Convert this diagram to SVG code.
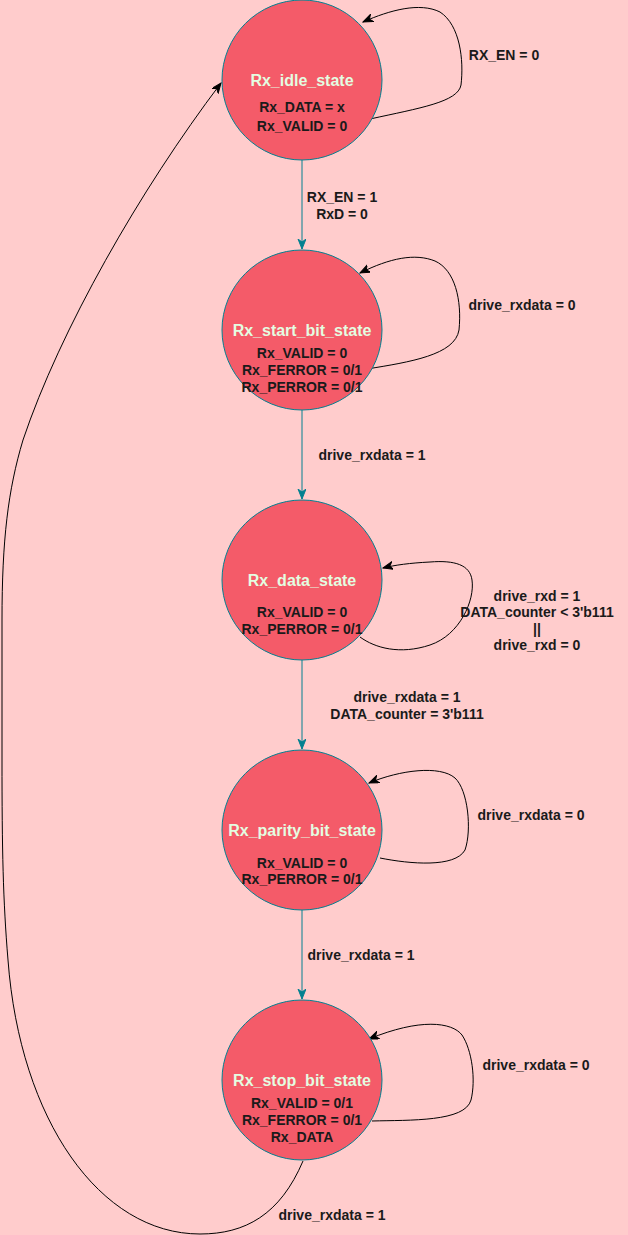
<svg xmlns="http://www.w3.org/2000/svg" width="628" height="1235" viewBox="0 0 628 1235">
<style>
.st{fill:#F45B69;stroke:#028090;stroke-width:1}
.tt{font-family:"Liberation Sans",Arial,sans-serif;font-size:16px;font-weight:bold;fill:#E4FDE1;text-anchor:middle}
.bt{font-family:"Liberation Sans",Arial,sans-serif;font-size:14px;font-weight:bold;fill:#1a1a1a;text-anchor:middle}
.lb{font-family:"Liberation Sans",Arial,sans-serif;font-size:14px;font-weight:bold;fill:#1a1a1a;text-anchor:middle}
.tl{fill:none;stroke:#028090;stroke-width:1;marker-end:url(#at)}
.bl{fill:none;stroke:#000;stroke-width:1;marker-end:url(#ab)}
</style>
<defs>
<marker id="at" markerUnits="userSpaceOnUse" markerWidth="12" markerHeight="10" refX="10" refY="4" orient="auto">
<path d="M0,0 L10,4 L0,8 L3,4 Z" fill="#028090" stroke="#028090" stroke-width="1"/>
</marker>
<marker id="ab" markerUnits="userSpaceOnUse" markerWidth="12" markerHeight="10" refX="10" refY="4" orient="auto">
<path d="M0,0 L10,4 L0,8 L3,4 Z" fill="#000" stroke="#000" stroke-width="1"/>
</marker>
</defs>
<rect x="0" y="0" width="628" height="1235" fill="#FFCCCC"/>
<g id="connectors">
<path class="tl" d="M302,160 L302,249"/>
<path class="tl" d="M302,410 L302,499"/>
<path class="tl" d="M302,660 L302,749"/>
<path class="tl" d="M302,910 L302,999"/>
<path class="bl" d="M370,119 C420,108 458,102 461,85 C464,60 460,25 440,12 C420,2 390,10 363,22"/>
<path class="bl" d="M367,369 C410,362 455,355 459,330 C462,300 455,270 435,261 C415,253 390,258 360,273"/>
<path class="bl" d="M360,637 C375,648 400,655 430,645 C460,635 475,600 472,580 C470,565 455,560 430,562 C410,563 395,565 383,568"/>
<path class="bl" d="M380,858 C410,864 455,868 465,850 C472,830 468,790 455,778 C440,765 400,770 369,783"/>
<path class="bl" d="M372,1121 C410,1120 465,1122 471,1100 C476,1080 472,1050 462,1035 C452,1022 420,1018 369,1039"/>
<path class="bl" d="M303,1161 C280,1215 245,1234 200,1234 C100,1234 20,1120 8,960 C3,900 2,850 2,760 L2,620 C2,540 8,490 23,440 C60,330 140,190 221,83"/>
<text class="lb" x="504" y="60">RX_EN = 0</text>
<text class="lb" x="342" y="202">RX_EN = 1</text>
<text class="lb" x="342" y="219">RxD = 0</text>
<text class="lb" x="522" y="310">drive_rxdata = 0</text>
<text class="lb" x="372" y="460">drive_rxdata = 1</text>
<text class="lb" x="537" y="601">drive_rxd = 1</text>
<text class="lb" x="537" y="617">DATA_counter &lt; 3'b111</text>
<text class="lb" x="537" y="634">||</text>
<text class="lb" x="537" y="650">drive_rxd = 0</text>
<text class="lb" x="407" y="702">drive_rxdata = 1</text>
<text class="lb" x="407" y="719">DATA_counter = 3'b111</text>
<text class="lb" x="531" y="820">drive_rxdata = 0</text>
<text class="lb" x="361" y="960">drive_rxdata = 1</text>
<text class="lb" x="536" y="1070">drive_rxdata = 0</text>
<text class="lb" x="332" y="1220">drive_rxdata = 1</text>
</g>
<g id="idle">
<circle class="st" cx="302" cy="80" r="80"/>
<text class="tt" x="302" y="86">Rx_idle_state</text>
<text class="bt" x="302" y="112">Rx_DATA = x</text>
<text class="bt" x="302" y="131">Rx_VALID = 0</text>
</g>
<g id="start">
<circle class="st" cx="302" cy="330" r="80"/>
<text class="tt" x="302" y="336">Rx_start_bit_state</text>
<text class="bt" x="302" y="358">Rx_VALID = 0</text>
<text class="bt" x="302" y="375">Rx_FERROR = 0/1</text>
<text class="bt" x="302" y="392">Rx_PERROR = 0/1</text>
</g>
<g id="data">
<circle class="st" cx="302" cy="580" r="80"/>
<text class="tt" x="302" y="586">Rx_data_state</text>
<text class="bt" x="302" y="617">Rx_VALID = 0</text>
<text class="bt" x="302" y="634">Rx_PERROR = 0/1</text>
</g>
<g id="parity">
<circle class="st" cx="302" cy="830" r="80"/>
<text class="tt" x="302" y="836">Rx_parity_bit_state</text>
<text class="bt" x="302" y="868">Rx_VALID = 0</text>
<text class="bt" x="302" y="884">Rx_PERROR = 0/1</text>
</g>
<g id="stop">
<circle class="st" cx="302" cy="1080" r="80"/>
<text class="tt" x="302" y="1086">Rx_stop_bit_state</text>
<text class="bt" x="302" y="1108">Rx_VALID = 0/1</text>
<text class="bt" x="302" y="1125">Rx_FERROR = 0/1</text>
<text class="bt" x="302" y="1142">Rx_DATA</text>
</g>
</svg>
